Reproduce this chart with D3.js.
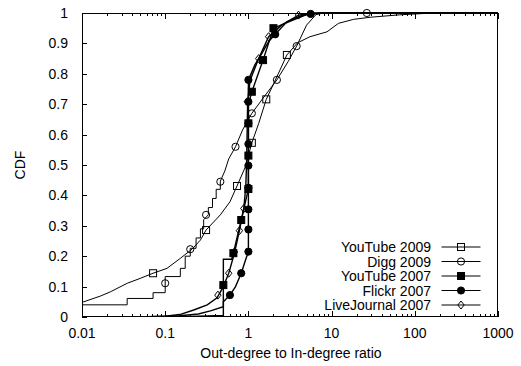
<!DOCTYPE html>
<html><head><meta charset="utf-8">
<script src="https://cdn.jsdelivr.net/npm/d3@7"></script>
<style>body{margin:0;background:#fff}svg{display:block}text{font-family:"Liberation Sans",Arial,sans-serif;fill:#000}</style>
</head><body><div id="chart"></div>
<script>
const seriesNames = ["YouTube 2009","Digg 2009","YouTube 2007","Flickr 2007","LiveJournal 2007"];
const xTickValues = [0.01,0.1,1,10,100,1000];
const xTickLabels = ["0.01","0.1","1","10","100","1000"];
const yTickValues = [0,0.1,0.2,0.3,0.4,0.5,0.6,0.7,0.8,0.9,1];
const yTickLabels = ["0","0.1","0.2","0.3","0.4","0.5","0.6","0.7","0.8","0.9","1"];

// YouTube 2009 (open squares)
const youtube2009 = [[0.01,0.048],[0.0167,0.069],[0.022,0.083],[0.035,0.111],[0.05,0.127],[0.0715,0.144],[0.105,0.16],[0.152,0.193],[0.21,0.223],[0.265,0.253],[0.31,0.286],[0.46,0.336],[0.6,0.379],[0.73,0.431],[0.92,0.494],[1.1,0.573],[1.33,0.637],[1.64,0.716],[2.2,0.79],[2.9,0.862],[3.9,0.902],[5.5,0.922],[8.8,0.938],[12.1,0.966],[18.3,0.979],[29,0.986],[66,0.994],[165,1.0],[1000,1.0]];
const youtube2009Marks = [[0.0715,0.144],[0.31,0.286],[0.73,0.431],[1.1,0.573],[1.64,0.716],[2.9,0.862]];

// Digg 2009 (open circles)
const digg2009 = [[0.01,0.04],[0.0349,0.04],[0.0349,0.061],[0.0715,0.061],[0.0715,0.08],[0.1,0.08],[0.1,0.133],[0.152,0.133],[0.152,0.16],[0.174,0.16],[0.174,0.2],[0.2,0.2],[0.2,0.226],[0.235,0.226],[0.235,0.26],[0.265,0.26],[0.265,0.29],[0.29,0.29],[0.29,0.32],[0.33,0.336],[0.33,0.36],[0.37,0.36],[0.37,0.39],[0.41,0.39],[0.41,0.42],[0.46,0.42],[0.46,0.447],[0.52,0.48],[0.58,0.52],[0.7,0.56],[0.85,0.615],[1.1,0.67],[1.6,0.73],[2.2,0.78],[3.0,0.84],[3.8,0.891],[5.0,0.96],[6.5,0.995],[8,1.0],[1000,1.0]];
const digg2009Marks = [[0.1,0.111],[0.2,0.223],[0.31,0.336],[0.46,0.445],[0.7,0.56],[1.1,0.67],[2.2,0.78],[3.8,0.891],[26.5,1.0]];

// YouTube 2007 (filled squares)
const youtube2007 = [[0.05,0],[0.15,0.004],[0.25,0.01],[0.35,0.02],[0.5,0.034],[0.5,0.19],[0.63,0.19],[0.66,0.21],[0.82,0.319],[1.0,0.421],[1.0,0.7],[1.1,0.741],[1.5,0.845],[2.0,0.95],[3,0.97],[5,0.995],[8,1],[1000,1]];
const youtube2007Marks = [[0.5,0.105],[0.66,0.21],[0.82,0.319],[1.0,0.421],[1.0,0.531],[1.0,0.637],[1.1,0.741],[1.5,0.845],[2.0,0.95]];

// Flickr 2007 (filled circles)
const flickr2007 = [[0.05,0],[0.2,0.002],[0.5,0.005],[0.5,0.05],[0.6,0.072],[0.7,0.1],[0.82,0.144],[0.93,0.19],[1.0,0.215],[1.0,0.78],[1.2,0.83],[1.4,0.86],[1.75,0.906],[2.1,0.93],[2.9,0.971],[4.2,0.99],[5.6,0.997],[8,1],[1000,1]];
const flickr2007Marks = [[0.6,0.072],[0.82,0.144],[1.0,0.215],[1.0,0.288],[1.0,0.354],[1.0,0.425],[1.0,0.498],[1.0,0.569],[1.0,0.637],[1.0,0.708],[1.0,0.78],[2.1,0.93],[5.6,0.997]];

// LiveJournal 2007 (open diamonds)
const livejournal2007 = [[0.05,0],[0.1,0.003],[0.15,0.008],[0.22,0.023],[0.32,0.04],[0.42,0.063],[0.5,0.1],[0.58,0.144],[0.68,0.21],[0.78,0.284],[0.88,0.357],[0.93,0.43],[0.95,0.5],[0.96,0.57],[0.97,0.64],[0.98,0.71],[1.05,0.78],[1.33,0.85],[1.75,0.922],[2.5,0.96],[4.0,0.993],[6,1.0],[1000,1.0]];
const livejournal2007Marks = [[0.43,0.072],[0.58,0.144],[0.68,0.214],[0.78,0.284],[0.88,0.357],[0.97,0.708],[1.33,0.85],[1.75,0.922],[4.0,0.993]];

const W = 521, H = 366;
const L = 82, R = 498, T = 13, B = 317;
const x = d3.scaleLog().domain([0.01,1000]).range([L,R]);
const y = d3.scaleLinear().domain([0,1]).range([B,T]);

const svg = d3.select("#chart").append("svg").attr("width",W).attr("height",H);
const fs = 14;

svg.append("clipPath").attr("id","clip").append("rect").attr("x",L).attr("y",T-5).attr("width",R-L).attr("height",B-T+5);

const g = svg.append("g").attr("stroke","#000").attr("stroke-width",1).attr("shape-rendering","crispEdges");
const minor = [];
for (let e=-2;e<3;e++) for (let k=2;k<10;k++) minor.push(k*Math.pow(10,e));
xTickValues.forEach(v=>{
  g.append("line").attr("x1",Math.round(x(v))+0.5).attr("x2",Math.round(x(v))+0.5).attr("y1",B).attr("y2",B-6);
  g.append("line").attr("x1",Math.round(x(v))+0.5).attr("x2",Math.round(x(v))+0.5).attr("y1",T).attr("y2",T+6);
});
minor.forEach(v=>{
  g.append("line").attr("x1",Math.round(x(v))+0.5).attr("x2",Math.round(x(v))+0.5).attr("y1",B).attr("y2",B-3);
  g.append("line").attr("x1",Math.round(x(v))+0.5).attr("x2",Math.round(x(v))+0.5).attr("y1",T).attr("y2",T+3);
});
yTickValues.forEach(v=>{
  g.append("line").attr("x1",L).attr("x2",L+5).attr("y1",Math.round(y(v))+0.5).attr("y2",Math.round(y(v))+0.5);
});

xTickValues.forEach((v,i)=>{
  svg.append("text").attr("x",x(v)).attr("y",338).attr("text-anchor","middle").attr("font-size",fs).text(xTickLabels[i]);
});
yTickValues.forEach((v,i)=>{
  svg.append("text").attr("x",68).attr("y",y(v)+5).attr("text-anchor","end").attr("font-size",fs).text(yTickLabels[i]);
});
svg.append("text").attr("x",291).attr("y",358).attr("text-anchor","middle").attr("font-size",fs).text("Out-degree to In-degree ratio");
svg.append("text").attr("transform","translate(25,165) rotate(-90)").attr("text-anchor","middle").attr("font-size",fs).text("CDF");

const line = d3.line().x(d=>x(d[0])).y(d=>y(d[1]));
const plot = svg.append("g").attr("clip-path","url(#clip)");
const series = [
  {data:youtube2009, marks:youtube2009Marks, shape:"square", fill:"none", w:1},
  {data:digg2009, marks:digg2009Marks, shape:"circle", fill:"none", w:1},
  {data:youtube2007, marks:youtube2007Marks, shape:"square", fill:"#000", w:1.4},
  {data:flickr2007, marks:flickr2007Marks, shape:"circle", fill:"#000", w:1.4},
  {data:livejournal2007, marks:livejournal2007Marks, shape:"diamond", fill:"none", w:1.4}
];
function marker(sel, shape, fill){
  if (shape==="square") sel.append("rect").attr("x",-3.5).attr("y",-3.5).attr("width",7).attr("height",7);
  else if (shape==="circle") sel.append("circle").attr("r",3.6);
  else sel.append("path").attr("d","M0,-4L3.2,0L0,4L-3.2,0Z");
  sel.selectAll("*").attr("fill",fill).attr("stroke","#000").attr("stroke-width",1);
}
series.forEach(s=>{
  plot.append("path").datum(s.data).attr("d",line).attr("fill","none").attr("stroke","#000").attr("stroke-width",s.w);
});
series.forEach(s=>{
  s.marks.forEach(m=>{
    const mg = plot.append("g").attr("transform",`translate(${x(m[0])},${y(m[1])})`);
    marker(mg, s.shape, s.fill);
  });
});

svg.append("rect").attr("x",L+0.5).attr("y",T+0.5).attr("width",R-L-1).attr("height",B-T-1).attr("fill","none").attr("stroke","#000").attr("stroke-width",1).attr("shape-rendering","crispEdges");

const legY = [247,261.5,276,290.5,305];
series.forEach((s,i)=>{
  svg.append("text").attr("x",431).attr("y",legY[i]+5).attr("text-anchor","end").attr("font-size",fs).text(seriesNames[i]);
  svg.append("line").attr("x1",441.5).attr("x2",480.5).attr("y1",legY[i]).attr("y2",legY[i]).attr("stroke","#000").attr("stroke-width",1);
  const mg = svg.append("g").attr("transform",`translate(461,${legY[i]})`);
  marker(mg, s.shape, s.fill);
});
</script></body></html>
